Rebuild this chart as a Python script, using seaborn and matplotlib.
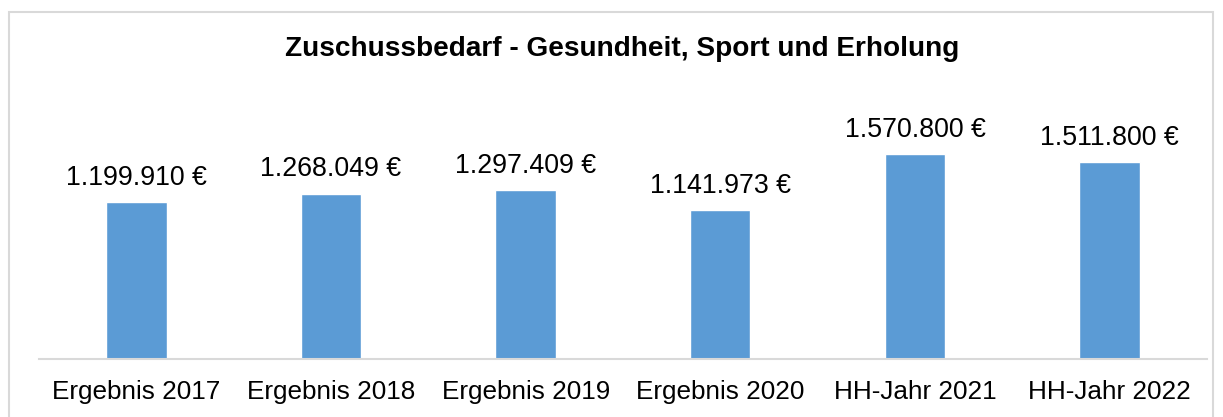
import matplotlib
matplotlib.use("Agg")
import matplotlib.pyplot as plt
import matplotlib.patches as mpatches
import pandas as pd
import seaborn as sns

kategorien = ["Ergebnis 2017", "Ergebnis 2018", "Ergebnis 2019",
              "Ergebnis 2020", "HH-Jahr 2021", "HH-Jahr 2022"]
werte = [1199910, 1268049, 1297409, 1141973, 1570800, 1511800]
titel = "Zuschussbedarf - Gesundheit, Sport und Erholung"

df = pd.DataFrame({"Jahr": kategorien, "Betrag": werte})

sns.set_style("white")
plt.rcParams["font.family"] = ["Liberation Sans", "DejaVu Sans"]
plt.rcParams["text.color"] = "#000000"

fig = plt.figure(figsize=(12.23, 4.17), dpi=100)
ax = fig.add_axes([0.0319, 0.139, 0.955, 0.626])
sns.barplot(data=df, x="Jahr", y="Betrag", color="#5B9BD5", saturation=1,
            width=0.31, ax=ax)

def fmt(v):
    return "{:,}".format(v).replace(",", ".") + " €"

for i, v in enumerate(werte):
    ax.annotate(fmt(v), (i, v), xytext=(0, 8), textcoords="offset points",
                ha="center", va="bottom", fontsize=19.3, color="#000000")

ax.set_ylim(0, 2000000)
ax.set_xlim(-0.5, len(kategorien) - 0.5)
ax.set_xlabel("")
ax.set_ylabel("")
ax.set_yticks([])
for s in ["top", "left", "right"]:
    ax.spines[s].set_visible(False)
ax.spines["bottom"].set_color("#D9D9D9")
ax.spines["bottom"].set_linewidth(1.5)
ax.tick_params(axis="x", length=0, pad=15, labelsize=18.8, colors="#000000")

fig.text(0.5085, 0.882, titel, ha="center", va="center",
         fontsize=20.2, fontweight="bold", color="#000000")

rahmen = mpatches.Rectangle((9 / 1223, -0.1), 1204 / 1223, 1.1 - 12 / 417,
                            transform=fig.transFigure, fill=False,
                            edgecolor="#D9D9D9", linewidth=1.5)
fig.patches.append(rahmen)

fig.savefig("out.png", dpi=100)
